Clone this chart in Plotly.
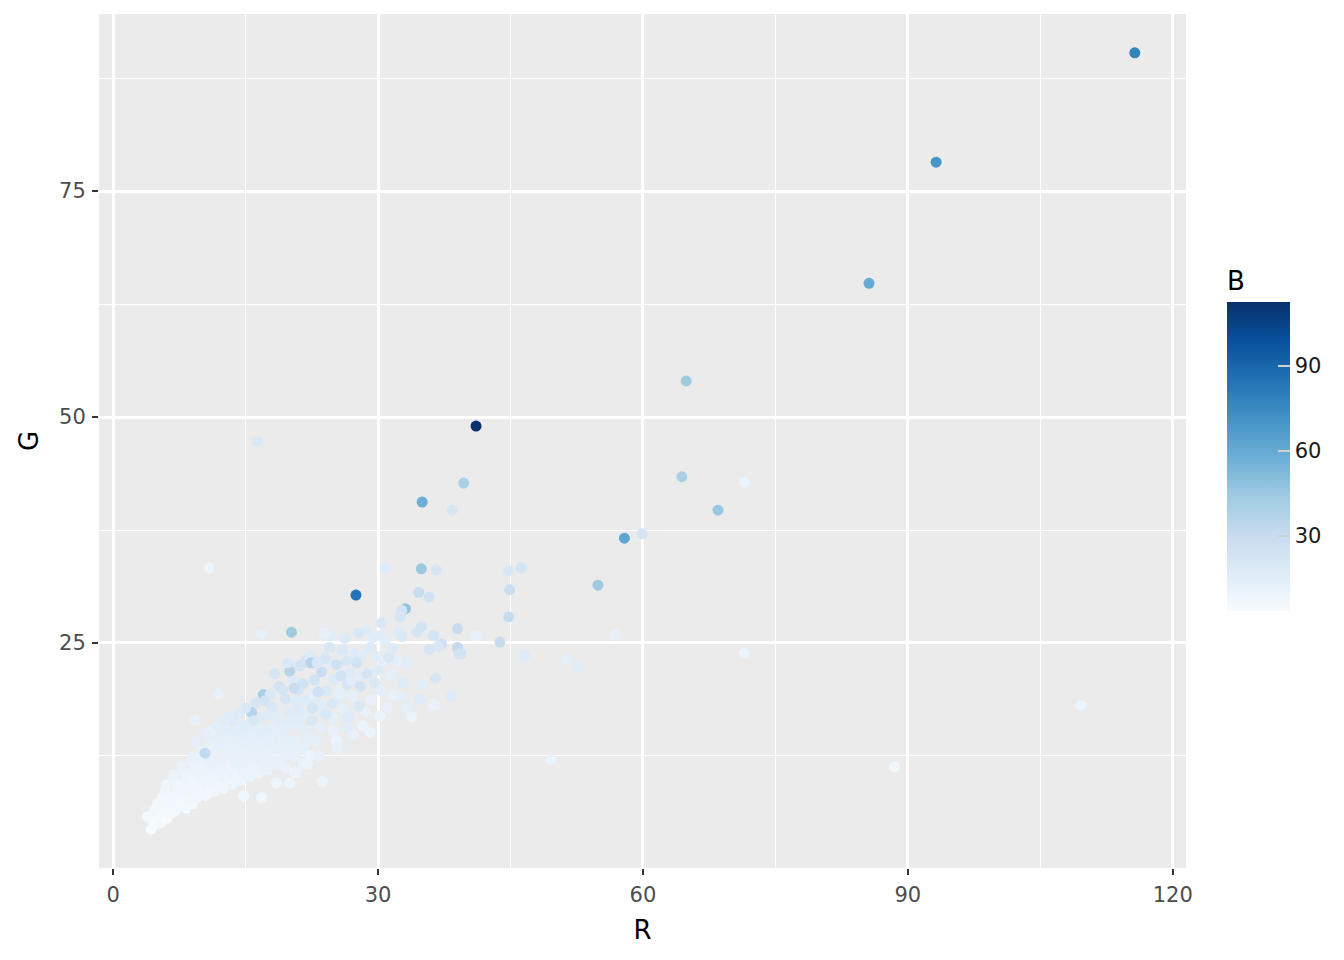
import plotly.graph_objects as go

# ── Data ──────────────────────────────────────────────────────────────────────
# dense lower-left cluster, row by row along R
r_core = [
    3.9, 4.3, 4.5, 4.7, 4.9, 5.0, 5.3,
    5.4, 5.6, 5.8, 5.9, 6.1, 6.2, 6.0,
    6.4, 6.6, 6.7, 6.9, 7.0, 7.1, 7.2, 6.8,
    7.4, 7.6, 7.7, 7.9, 8.0, 8.1, 8.2, 7.8, 8.3,
    8.5, 8.6, 8.7, 8.8, 9.0, 9.1, 9.2, 8.9, 9.3,
    9.5, 9.6, 9.7, 9.8, 9.9, 10.0, 10.1, 10.2, 10.3, 9.4,
    10.5, 10.6, 10.7, 10.8, 10.9, 11.0, 11.1, 11.2, 11.3, 10.4, 11.2,
    11.5, 11.6, 11.7, 11.8, 11.9, 12.0, 12.1, 12.2, 12.3, 11.9,
    12.5, 12.6, 12.7, 12.8, 12.9, 13.0, 13.1, 13.2, 13.3, 12.6,
    13.5, 13.6, 13.7, 13.8, 13.9, 14.0, 14.1, 14.2, 14.3, 13.6,
    14.5, 14.6, 14.7, 14.8, 14.9, 15.0, 15.1, 15.2, 15.3, 14.8,
    15.5, 15.6, 15.7, 15.8, 15.9, 16.0, 16.1, 16.2, 16.3, 15.7,
    16.5, 16.6, 16.7, 16.8, 16.9, 17.0, 17.1, 17.2, 16.8, 17.0,
    17.5, 17.6, 17.7, 17.8, 17.9, 18.0, 18.1, 18.2, 17.8, 18.3,
    18.5, 18.6, 18.7, 18.8, 18.9, 19.0, 19.1, 19.2, 18.5,
    19.5, 19.6, 19.7, 19.8, 19.9, 20.0, 20.1, 20.2, 20.0, 20.4,
    20.5, 20.6, 20.8, 20.9, 21.0, 21.1, 21.2, 20.8, 21.2,
    21.5, 21.6, 21.8, 21.9, 22.0, 22.1, 22.3, 22.4, 21.9,
    22.5, 22.7, 23.0, 23.1, 23.4, 23.4, 23.7, 23.2, 23.8, 23.4,
    24.2, 24.5, 24.6, 24.8, 24.9, 25.3, 25.4, 24.9, 25.0,
    25.6, 25.7, 26.1, 26.4, 26.5, 26.5, 26.8, 27.0, 27.1, 27.2, 27.3,
    28.0, 28.3, 28.3, 28.3, 28.6, 29.1, 29.1, 29.2, 29.9, 30.2, 30.4,
    31.0, 31.7, 32.2, 32.7, 32.8, 33.2, 33.3, 33.8, 34.7, 35.0, 36.2, 36.4,
    36.5, 38.3, 39.4, 30.6, 31.5, 9.3, 20.8, 14.8, 22.0,
]
g_core = [
    5.8, 4.4, 5.3, 6.6, 5.0, 7.2, 6.0,
    5.1, 7.9, 6.5, 8.6, 5.6, 7.3, 9.3,
    6.0, 7.0, 8.1, 9.7, 6.4, 7.8, 8.9, 10.4,
    6.9, 8.4, 9.3, 10.8, 7.3, 8.7, 9.9, 11.4, 6.7,
    7.6, 8.9, 10.3, 11.9, 7.2, 9.6, 11.1, 12.4, 8.3,
    7.9, 9.2, 10.6, 12.0, 13.1, 8.4, 9.9, 11.4, 12.8, 14.1,
    8.1, 9.5, 10.9, 12.4, 13.8, 8.8, 10.3, 11.7, 13.2, 12.8, 15.3,
    8.6, 10.0, 11.4, 12.9, 14.4, 9.2, 10.8, 12.2, 13.6, 19.4,
    8.9, 10.4, 11.8, 13.3, 14.8, 9.6, 11.1, 12.6, 14.1, 15.5,
    9.4, 10.9, 12.3, 13.9, 15.4, 10.1, 11.6, 13.1, 14.6, 16.4,
    9.8, 11.3, 12.8, 14.3, 15.9, 10.6, 12.1, 13.6, 15.0, 8.1,
    10.2, 11.7, 13.2, 14.8, 16.3, 11.0, 12.6, 14.1, 15.6, 17.3,
    10.6, 12.1, 13.7, 15.2, 16.8, 11.4, 12.9, 14.5, 7.9, 19.3,
    11.0, 12.5, 14.0, 15.6, 17.1, 11.8, 13.4, 14.9, 19.3, 21.6,
    9.5, 11.6, 13.1, 14.7, 16.2, 12.3, 13.9, 15.4, 16.9,
    11.2, 12.7, 14.2, 15.8, 17.3, 9.5, 13.4, 16.6, 21.9, 20.8,
    10.7, 12.4, 14.2, 15.9, 17.6, 13.1, 16.6, 18.6, 22.5,
    11.6, 13.3, 15.3, 17.0, 18.7, 14.5, 12.5, 22.8, 23.1,
    16.4, 19.3, 14.2, 22.8, 15.6, 12.5, 9.7, 17.9, 17.3, 18.2,
    19.7, 24.5, 22.7, 18.3, 15.3, 14.2, 13.4, 16.7, 21.0,
    19.0, 19.4, 17.6, 23.0, 20.4, 15.6, 21.7, 20.8, 19.1, 14.9, 23.8,
    20.2, 23.7, 21.5, 15.8, 17.4, 24.5, 15.1, 18.7, 23.5, 16.9, 19.7,
    17.9, 19.2, 23.0, 19.1, 20.6, 22.8, 17.8, 16.8, 18.8, 20.4, 18.3, 18.1,
    21.1, 19.1, 23.8, 22.8, 21.5, 16.5, 10.7, 8.1, 11.6,
]
b_core = [
    5, 4, 5, 6, 4, 6, 5,
    5, 7, 5, 8, 4, 6, 8,
    5, 6, 7, 9, 5, 6, 8, 10,
    6, 7, 8, 10, 5, 8, 9, 11, 5,
    7, 8, 9, 11, 6, 8, 10, 12, 7,
    7, 8, 10, 11, 13, 7, 9, 10, 12, 14,
    7, 9, 10, 12, 13, 8, 9, 11, 12, 32, 12,
    8, 9, 11, 12, 14, 8, 10, 11, 13, 12,
    8, 9, 11, 12, 14, 9, 10, 12, 13, 15,
    9, 10, 12, 13, 15, 9, 11, 12, 14, 18,
    9, 11, 12, 14, 16, 10, 11, 13, 15, 7,
    10, 11, 13, 14, 16, 10, 12, 14, 15, 36,
    10, 12, 13, 15, 17, 11, 12, 14, 8, 40,
    11, 12, 14, 15, 17, 11, 13, 14, 20, 22,
    9, 11, 13, 14, 16, 12, 13, 15, 16,
    11, 12, 14, 15, 17, 9, 13, 16, 36, 18,
    10, 12, 14, 15, 18, 12, 16, 18, 24,
    11, 13, 15, 16, 18, 14, 10, 36, 22,
    20, 14, 14, 20, 14, 12, 10, 16, 16, 16,
    20, 20, 16, 20, 12, 10, 12, 14, 18,
    16, 14, 14, 20, 22, 16, 18, 16, 14, 12, 18,
    24, 16, 16, 10, 12, 18, 10, 12, 16, 10, 14,
    12, 12, 14, 14, 18, 16, 14, 10, 18, 15, 12, 12,
    22, 18, 24, 14, 14, 12, 10, 8, 10,
]

# upper band of the cluster, slightly bluer
r_mid = [
    18.8, 19.5, 21.5, 22.8, 23.6, 24.0, 25.3, 26.0, 21.0, 19.8,
    22.3, 24.6, 26.2, 27.6, 28.8, 29.6, 30.0, 31.2, 31.6, 29.4,
    17.2, 16.2, 15.0, 14.2, 13.0, 20.5, 23.2, 25.8, 27.8, 26.6,
    24.1, 22.6, 19.2, 18.0, 15.9, 12.3, 10.5, 11.8, 28.6, 30.8,
]
g_mid = [
    20.2, 18.8, 20.5, 20.9, 21.8, 23.3, 22.6, 24.2, 19.8, 22.8,
    23.6, 25.8, 25.5, 22.8, 21.6, 20.6, 22.0, 23.4, 24.4, 25.6,
    18.6, 18.4, 17.8, 17.2, 16.8, 20.0, 19.6, 21.4, 18.0, 16.8,
    17.1, 17.8, 19.8, 17.9, 16.4, 16.2, 14.9, 15.8, 26.4, 25.2,
]
b_mid = [
    24, 22, 26, 24, 28, 22, 26, 20, 22, 20,
    18, 16, 18, 24, 22, 20, 18, 20, 18, 16,
    24, 22, 20, 18, 16, 28, 26, 24, 20, 18,
    20, 22, 22, 20, 20, 16, 14, 15, 18, 16,
]

# sparser points up and to the right
r_outer = [
    115.7, 93.2, 85.6, 64.9, 41.1, 16.3, 64.4, 71.5, 39.7, 35.0,
    38.4, 68.5, 59.9, 57.9, 10.9, 27.5, 30.8, 34.9, 36.6, 44.8,
    46.2, 44.9, 54.9, 34.6, 35.8, 33.1, 32.7, 32.5, 44.8, 20.2,
    16.8, 23.9, 27.8, 30.4, 30.2, 32.3, 32.7, 34.4, 34.9, 36.3,
    39.0, 41.1, 43.8, 56.8, 37.2, 36.8, 35.8, 39.0, 39.2, 46.6,
    51.4, 52.6, 71.5, 109.6, 88.5, 49.6, 24.5, 29.1, 22.4, 23.1,
]
g_outer = [
    90.3, 78.2, 64.8, 54.0, 49.0, 47.3, 43.4, 42.8, 42.7, 40.6,
    39.7, 39.7, 37.1, 36.6, 33.3, 30.3, 33.3, 33.2, 33.1, 33.0,
    33.3, 30.9, 31.4, 30.6, 30.1, 28.8, 28.6, 27.9, 27.9, 26.2,
    26.0, 26.1, 26.1, 27.2, 25.8, 26.2, 25.7, 26.2, 26.8, 25.8,
    26.6, 25.8, 25.1, 25.9, 24.9, 24.6, 24.3, 24.5, 23.8, 23.6,
    23.2, 22.4, 23.9, 18.1, 11.3, 12.1, 24.5, 24.5, 22.8, 22.8,
]
b_outer = [
    78, 70, 60, 44, 112, 20, 40, 10, 40, 58,
    22, 46, 22, 62, 10, 85, 18, 45, 22, 20,
    24, 28, 44, 30, 26, 48, 24, 22, 30, 44,
    12, 12, 20, 20, 16, 18, 20, 22, 24, 24,
    30, 12, 30, 12, 26, 20, 22, 32, 24, 18,
    14, 16, 10, 10, 8, 10, 20, 18, 36, 20,
]

R = r_core + r_mid + r_outer
G = g_core + g_mid + g_outer
B = b_core + b_mid + b_outer

BLUES = [
    [0.000, "rgb(247,251,255)"], [0.125, "rgb(222,235,247)"],
    [0.250, "rgb(198,219,239)"], [0.375, "rgb(158,202,225)"],
    [0.500, "rgb(107,174,214)"], [0.625, "rgb(66,146,198)"],
    [0.750, "rgb(33,113,181)"], [0.875, "rgb(8,81,156)"],
    [1.000, "rgb(8,48,107)"],
]

FONT = "DejaVu Sans"
# page body adds an 8px offset, so the figure is 8px smaller each way
W, H = 1336, 952
L, Rm, T, Bm = 91, 158, 6, 92
PW, PH = W - L - Rm, H - T - Bm

# colour bar: bar itself spans y 295..603 in figure px, title sits above it
CB_TOP, CB_BOT = 259, 603

fig = go.Figure(go.Scatter(
    x=R, y=G, mode="markers",
    marker=dict(
        size=11, color=B, colorscale=BLUES, cmin=3.6, cmax=112.5,
        line=dict(width=0),
        colorbar=dict(
            title=dict(text="B", side="top", font=dict(size=26, color="black", family=FONT)),
            tickvals=[30, 60, 90],
            ticks="inside", ticklen=12, tickwidth=2, tickcolor="#d0d0d0",
            tickfont=dict(size=21, color="#1a1a1a", family=FONT),
            thickness=63, thicknessmode="pixels",
            len=CB_BOT - CB_TOP, lenmode="pixels",
            x=(1219 - L) / PW, xanchor="left", xpad=0,
            y=(H - Bm - (CB_TOP + CB_BOT) / 2) / PH, yanchor="middle", ypad=0,
            outlinewidth=0,
        ),
    ),
    hovertemplate="R=%{x}<br>G=%{y}<br>B=%{marker.color}<extra></extra>",
))

axis_common = dict(
    showgrid=True, gridcolor="white", gridwidth=2.5,
    zeroline=False, showline=False,
    ticks="outside", ticklen=6, tickwidth=2, tickcolor="#333333",
    tickfont=dict(size=21, color="#4d4d4d", family=FONT),
    ticklabelstandoff=2,
)

fig.update_layout(
    width=W, height=H,
    margin=dict(l=L, r=Rm, t=T, b=Bm, autoexpand=False),
    paper_bgcolor="white", plot_bgcolor="#ebebeb",
    font=dict(family=FONT, color="black"),
    showlegend=False,
    xaxis=dict(
        **axis_common, range=[-1.6, 121.5], tick0=0, dtick=30,
        minor=dict(dtick=15, showgrid=True, gridcolor="white", gridwidth=1.2),
        title=dict(text="R", font=dict(size=26, color="black", family=FONT), standoff=14),
    ),
    yaxis=dict(
        **axis_common, range=[0.1, 94.6], tick0=0, dtick=25,
        minor=dict(tick0=0, dtick=12.5, showgrid=True, gridcolor="white", gridwidth=1.2),
        title=dict(text="G", font=dict(size=26, color="black", family=FONT), standoff=12),
    ),
)

fig.write_html("out.html")
